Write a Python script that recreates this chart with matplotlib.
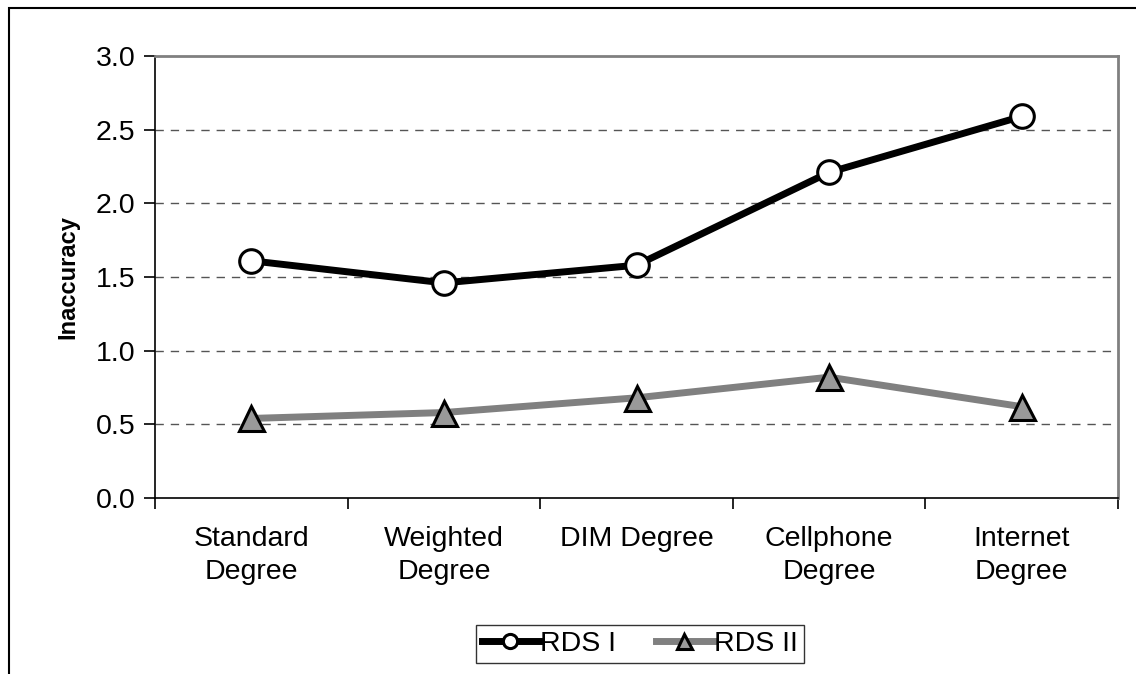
import numpy as np
import matplotlib.pyplot as plt
from matplotlib.patches import Rectangle

categorias = ['Standard\nDegree', 'Weighted\nDegree', 'DIM Degree', 'Cellphone\nDegree', 'Internet\nDegree']
rds_1 = [1.61, 1.46, 1.58, 2.21, 2.59]
rds_2 = [0.54, 0.58, 0.68, 0.82, 0.62]
y_ticks = [0.0, 0.5, 1.0, 1.5, 2.0, 2.5, 3.0]

plt.rcParams['font.family'] = ['Liberation Sans', 'DejaVu Sans']

fig = plt.figure(figsize=(11.36, 6.74), dpi=100)
ax = fig.add_axes([155 / 1136, 1 - 498 / 674, (1118 - 155) / 1136, (498 - 56) / 674])

x = np.arange(len(categorias))

# linhas de grade tracejadas
for v in y_ticks[1:-1]:
    ax.axhline(v, color='#555555', lw=1, ls=(0, (6, 5)), zorder=1)

ax.plot(x, rds_1, color='black', lw=5, marker='o', markersize=17,
        markerfacecolor='white', markeredgecolor='black', markeredgewidth=2.2,
        label='RDS I', zorder=3)
ax.plot(x, rds_2, color='#808080', lw=5, marker='^', markersize=18,
        markerfacecolor='#999999', markeredgecolor='black', markeredgewidth=2.2,
        label='RDS II', zorder=3)

ax.set_xlim(-0.5, len(categorias) - 0.5)
ax.set_ylim(0, 3.0)
ax.set_yticks(y_ticks)
ax.set_yticklabels([f'{v:.1f}' for v in y_ticks], fontsize=20.5)

# rótulos no centro, marcas entre as categorias
ax.set_xticks(np.arange(-0.5, len(categorias), 1))
ax.set_xticklabels([])
ax.set_xticks(x, minor=True)
ax.set_xticklabels(categorias, minor=True, fontsize=20.5, linespacing=1.35)
ax.tick_params(axis='x', which='minor', length=0, pad=20)
ax.tick_params(axis='x', which='major', direction='out', length=8, width=1.2)
ax.tick_params(axis='y', direction='out', length=8, width=1.2, pad=6)

ax.spines['left'].set_linewidth(1.2)
ax.spines['bottom'].set_linewidth(1.2)
ax.spines['top'].set_color('#808080')
ax.spines['right'].set_color('#808080')
ax.spines['top'].set_linewidth(2)
ax.spines['right'].set_linewidth(2)

ax.set_ylabel('Inaccuracy', fontsize=17, fontweight='bold', labelpad=12)

leg = fig.legend(loc='center', bbox_to_anchor=(640 / 1136, 1 - 644 / 674), ncol=2,
                 fontsize=20.5, frameon=True, fancybox=False, edgecolor='black',
                 handlelength=2.0, handletextpad=0.05, columnspacing=1.4,
                 borderpad=0.2, markerscale=0.6)
leg.get_frame().set_linewidth(1)

# moldura da figura
fig.patches.append(Rectangle((9 / 1136, -0.1), 1.2, 1 - 8 / 674 + 0.1,
                             transform=fig.transFigure, fill=False,
                             edgecolor='black', lw=1.5))

fig.savefig('out.png', dpi=100)
